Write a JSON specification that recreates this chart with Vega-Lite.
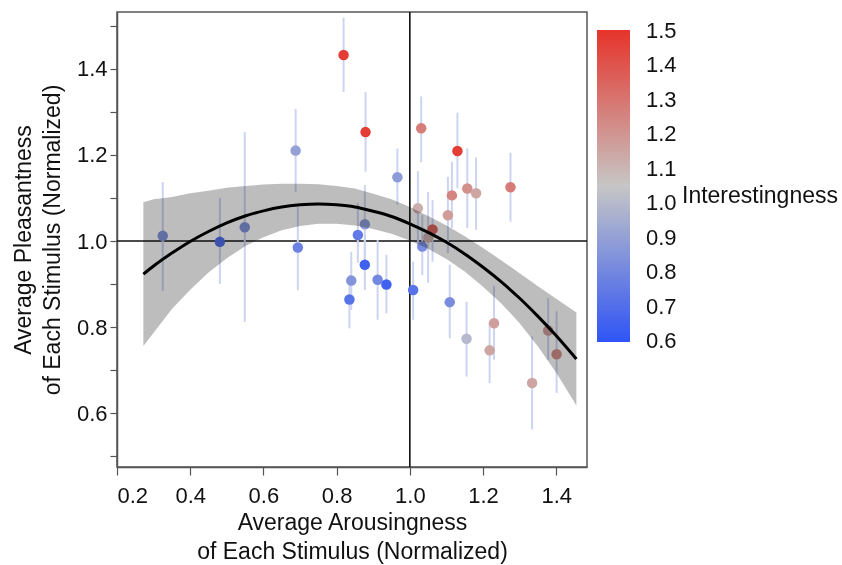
{
  "$schema": "https://vega.github.io/schema/vega-lite/v6.json",
  "width": 470,
  "height": 455,
  "autosize": {"type": "none"},
  "padding": {"left": 117, "top": 12, "right": 255, "bottom": 98},
  "background": "white",
  "title": {
    "text": "Interestingness",
    "orient": "top",
    "anchor": "start",
    "frame": "group",
    "align": "left",
    "baseline": "middle",
    "offset": 0,
    "dx": 565,
    "dy": 208,
    "font": "Liberation Sans",
    "fontSize": 23,
    "fontWeight": "normal",
    "color": "#111111"
  },
  "config": {
    "font": "Liberation Sans",
    "view": {"stroke": "#555555", "strokeWidth": 1.5},
    "axis": {
      "grid": false,
      "domainColor": "#555555",
      "domainWidth": 1.5,
      "tickColor": "#555555",
      "tickWidth": 1.2,
      "labelFont": "Liberation Sans",
      "titleFont": "Liberation Sans",
      "labelFontSize": 22,
      "titleFontSize": 23,
      "labelColor": "#111111",
      "titleColor": "#111111",
      "titleFontWeight": "normal",
      "titleLineHeight": 29
    }
  },
  "datasets": {
    "pts": [
      {"a": 0.325, "p": 1.012, "lo": 0.884, "hi": 1.137, "i": 0.85},
      {"a": 0.481, "p": 0.998, "lo": 0.900, "hi": 1.100, "i": 0.70},
      {"a": 0.549, "p": 1.032, "lo": 0.812, "hi": 1.253, "i": 0.85},
      {"a": 0.688, "p": 1.210, "lo": 1.114, "hi": 1.307, "i": 0.90},
      {"a": 0.694, "p": 0.985, "lo": 0.886, "hi": 1.079, "i": 0.78},
      {"a": 0.819, "p": 1.432, "lo": 1.346, "hi": 1.519, "i": 1.47},
      {"a": 0.858, "p": 1.014, "lo": 0.949, "hi": 1.088, "i": 0.75},
      {"a": 0.877, "p": 1.039, "lo": 0.945, "hi": 1.130, "i": 0.88},
      {"a": 0.877, "p": 0.945, "lo": 0.886, "hi": 1.014, "i": 0.65},
      {"a": 0.840, "p": 0.908, "lo": 0.840, "hi": 0.975, "i": 0.85},
      {"a": 0.835, "p": 0.864, "lo": 0.797, "hi": 0.921, "i": 0.72},
      {"a": 0.912, "p": 0.910, "lo": 0.817, "hi": 1.002, "i": 0.80},
      {"a": 0.936, "p": 0.899, "lo": 0.832, "hi": 0.968, "i": 0.65},
      {"a": 1.009, "p": 0.886, "lo": 0.817, "hi": 0.952, "i": 0.72},
      {"a": 0.879, "p": 1.253, "lo": 1.161, "hi": 1.346, "i": 1.47},
      {"a": 0.966, "p": 1.148, "lo": 1.084, "hi": 1.215, "i": 0.88},
      {"a": 1.031, "p": 1.262, "lo": 1.183, "hi": 1.336, "i": 1.27},
      {"a": 1.130, "p": 1.209, "lo": 1.122, "hi": 1.298, "i": 1.47},
      {"a": 1.022, "p": 1.076, "lo": 0.991, "hi": 1.162, "i": 1.12},
      {"a": 1.104, "p": 1.060, "lo": 0.972, "hi": 1.149, "i": 1.18},
      {"a": 1.062, "p": 1.027, "lo": 0.952, "hi": 1.095, "i": 1.35},
      {"a": 1.050, "p": 1.008, "lo": 0.903, "hi": 1.114, "i": 1.12},
      {"a": 1.034, "p": 0.987, "lo": 0.921, "hi": 1.060, "i": 0.82},
      {"a": 1.115, "p": 1.106, "lo": 1.030, "hi": 1.184, "i": 1.25},
      {"a": 1.157, "p": 1.122, "lo": 1.030, "hi": 1.215, "i": 1.22},
      {"a": 1.181, "p": 1.111, "lo": 1.026, "hi": 1.194, "i": 1.15},
      {"a": 1.275, "p": 1.125, "lo": 1.045, "hi": 1.205, "i": 1.28},
      {"a": 1.109, "p": 0.858, "lo": 0.774, "hi": 0.945, "i": 0.82},
      {"a": 1.155, "p": 0.773, "lo": 0.685, "hi": 0.859, "i": 1.00},
      {"a": 1.230, "p": 0.809, "lo": 0.724, "hi": 0.895, "i": 1.17},
      {"a": 1.218, "p": 0.746, "lo": 0.670, "hi": 0.809, "i": 1.15},
      {"a": 1.334, "p": 0.670, "lo": 0.562, "hi": 0.778, "i": 1.15},
      {"a": 1.378, "p": 0.792, "lo": 0.724, "hi": 0.867, "i": 1.17},
      {"a": 1.401, "p": 0.737, "lo": 0.647, "hi": 0.837, "i": 1.22}
    ],
    "fit": [
      {"a": 0.272, "f": 0.923, "lo": 0.756, "hi": 1.090},
      {"a": 0.30, "f": 0.942, "lo": 0.787, "hi": 1.097},
      {"a": 0.35, "f": 0.972, "lo": 0.842, "hi": 1.102},
      {"a": 0.40, "f": 0.999, "lo": 0.887, "hi": 1.111},
      {"a": 0.45, "f": 1.022, "lo": 0.927, "hi": 1.117},
      {"a": 0.50, "f": 1.042, "lo": 0.960, "hi": 1.124},
      {"a": 0.55, "f": 1.058, "lo": 0.988, "hi": 1.128},
      {"a": 0.60, "f": 1.070, "lo": 1.009, "hi": 1.131},
      {"a": 0.65, "f": 1.079, "lo": 1.025, "hi": 1.133},
      {"a": 0.70, "f": 1.084, "lo": 1.035, "hi": 1.133},
      {"a": 0.75, "f": 1.086, "lo": 1.040, "hi": 1.132},
      {"a": 0.80, "f": 1.084, "lo": 1.040, "hi": 1.128},
      {"a": 0.85, "f": 1.079, "lo": 1.036, "hi": 1.122},
      {"a": 0.90, "f": 1.069, "lo": 1.028, "hi": 1.110},
      {"a": 0.95, "f": 1.057, "lo": 1.017, "hi": 1.097},
      {"a": 1.00, "f": 1.040, "lo": 1.001, "hi": 1.079},
      {"a": 1.05, "f": 1.020, "lo": 0.982, "hi": 1.058},
      {"a": 1.10, "f": 0.997, "lo": 0.958, "hi": 1.036},
      {"a": 1.15, "f": 0.970, "lo": 0.929, "hi": 1.011},
      {"a": 1.20, "f": 0.939, "lo": 0.894, "hi": 0.984},
      {"a": 1.25, "f": 0.905, "lo": 0.855, "hi": 0.955},
      {"a": 1.30, "f": 0.867, "lo": 0.809, "hi": 0.925},
      {"a": 1.35, "f": 0.825, "lo": 0.755, "hi": 0.895},
      {"a": 1.40, "f": 0.780, "lo": 0.694, "hi": 0.866},
      {"a": 1.455, "f": 0.726, "lo": 0.618, "hi": 0.834}
    ],
    "refx": [{"v": 1.0}],
    "refy": [{"v": 1.0}]
  },
  "layer": [
    {
      "data": {"name": "refx"},
      "mark": {"type": "rule", "color": "#111111", "strokeWidth": 1.6},
      "encoding": {
        "x": {"field": "v", "type": "quantitative", "scale": {"domain": [0.2, 1.484], "nice": false, "zero": false}}
      }
    },
    {
      "data": {"name": "refy"},
      "mark": {"type": "rule", "color": "#111111", "strokeWidth": 1.6},
      "encoding": {
        "y": {"field": "v", "type": "quantitative", "scale": {"domain": [0.475, 1.532], "nice": false, "zero": false}}
      }
    },
    {
      "data": {"name": "pts"},
      "mark": {"type": "rule", "color": "#cdd4f2", "strokeWidth": 2},
      "encoding": {
        "x": {"field": "a", "type": "quantitative"},
        "y": {"field": "lo", "type": "quantitative"},
        "y2": {"field": "hi"}
      }
    },
    {
      "data": {"name": "pts"},
      "mark": {"type": "circle", "size": 110, "opacity": 1},
      "encoding": {
        "x": {"field": "a", "type": "quantitative"},
        "y": {"field": "p", "type": "quantitative"},
        "color": {
          "field": "i",
          "type": "quantitative",
          "scale": {"domain": [0.598, 1.05, 1.502], "range": ["#2f54f5", "#c6c6c6", "#e6332a"], "interpolate": "rgb"},
          "legend": {
            "title": null,
            "orient": "none",
            "legendX": 480,
            "legendY": 18,
            "direction": "vertical",
            "gradientLength": 312,
            "gradientThickness": 33,
            "gradientStrokeWidth": 0,
            "values": [0.6, 0.7, 0.8, 0.9, 1.0, 1.1, 1.2, 1.3, 1.4, 1.5],
            "format": ".1f",
            "labelFontSize": 22,
            "labelFont": "Liberation Sans",
            "labelColor": "#111111",
            "labelOffset": 16,
            "labelOverlap": false,
            "padding": 0
          }
        }
      }
    },
    {
      "data": {"name": "fit"},
      "mark": {"type": "area", "color": "#bdbdbd", "opacity": 1, "blend": "multiply"},
      "encoding": {
        "x": {"field": "a", "type": "quantitative"},
        "y": {"field": "lo", "type": "quantitative"},
        "y2": {"field": "hi"}
      }
    },
    {
      "data": {"name": "fit"},
      "mark": {"type": "line", "color": "#000000", "strokeWidth": 3, "interpolate": "monotone"},
      "encoding": {
        "x": {
          "field": "a",
          "type": "quantitative",
          "axis": {
            "title": ["Average Arousingness", "of Each Stimulus (Normalized)"],
            "values": [0.2, 0.4, 0.6, 0.8, 1.0, 1.2, 1.4],
            "format": ".1f",
            "tickSize": 8,
            "labelPadding": 10,
            "titlePadding": 5
          }
        },
        "y": {
          "field": "f",
          "type": "quantitative",
          "axis": {
            "title": ["Average Pleasantness", "of Each Stimulus (Normalized)"],
            "values": [0.5, 0.6, 0.7, 0.8, 0.9, 1.0, 1.1, 1.2, 1.3, 1.4, 1.5],
            "labelExpr": "abs(round(datum.value*10)) % 2 == 0 ? format(datum.value, '.1f') : ''",
            "tickSize": 7,
            "labelPadding": 3,
            "titlePadding": 12
          }
        }
      }
    }
  ]
}
